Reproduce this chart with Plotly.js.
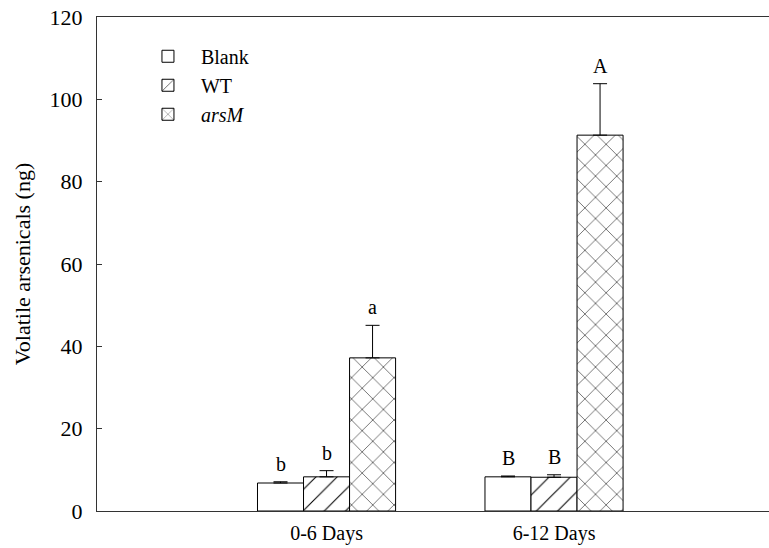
<!DOCTYPE html>
<html>
<head>
<meta charset="utf-8">
<script src="https://cdn.plot.ly/plotly-3.0.1.min.js"></script>
<style>html,body{margin:0;padding:0;background:#fff;}#chart{width:769px;height:548px;}</style>
</head>
<body>
<div id="chart"></div>
<script>
const categories = ["0-6 Days", "6-12 Days"];
const seriesNames = ["Blank", "WT", "<i>arsM</i>"];
const blankValues = [6.8, 8.3];
const blankErrors = [0.3, 0.2];
const wtValues = [8.3, 8.2];
const wtErrors = [1.5, 0.6];
const arsmValues = [37.2, 91.3];
const arsmErrors = [7.9, 12.5];
const blankLetters = ["b", "B"];
const wtLetters = ["b", "B"];
const arsmLetters = ["a", "A"];
const yTicks = [0, 20, 40, 60, 80, 100, 120];

const FONT = "Liberation Serif, Times New Roman, serif";
const shapes = ["", "/", "x"];
const values = [blankValues, wtValues, arsmValues];
const errors = [blankErrors, wtErrors, arsmErrors];
const letters = [blankLetters, wtLetters, arsmLetters];
const bargap = 0.393;

const traces = values.map((v, i) => ({
  type: "bar",
  name: seriesNames[i],
  x: categories,
  y: v,
  marker: {
    color: "#ffffff",
    line: {color: "#000000", width: 1},
    pattern: {shape: shapes[i], fgcolor: "#000000", bgcolor: "#ffffff", size: 15, solidity: 0.07}
  },
  error_y: {type: "data", symmetric: false, array: errors[i], arrayminus: v.map(() => 0), color: "#000000", thickness: 1, width: 7}
}));

const bw = (1 - bargap) / 3;
const annotations = [];
letters.forEach((arr, i) => {
  arr.forEach((t, j) => {
    annotations.push({
      x: j + (i - 1) * bw, y: values[i][j] + errors[i][j], xref: "x", yref: "y",
      text: t, showarrow: false, yanchor: "bottom", yshift: 5,
      font: {family: FONT, size: 20, color: "#000"}
    });
  });
});

const layout = {
  width: 769, height: 548,
  margin: {l: 97, r: 0, t: 17, b: 37},
  paper_bgcolor: "#fff", plot_bgcolor: "#fff",
  barmode: "group", bargap: bargap, bargroupgap: 0,
  showlegend: true,
  legend: {x: 0.0565, y: 0.96, xanchor: "left", yanchor: "top", bgcolor: "rgba(0,0,0,0)",
    font: {family: FONT, size: 20, color: "#000"}, tracegroupgap: 0, itemwidth: 56},
  xaxis: {
    type: "category", range: [-1.009, 1.945],
    showline: true, linecolor: "#333", linewidth: 1, mirror: true,
    ticks: "", showgrid: false, zeroline: false,
    tickfont: {family: FONT, size: 20, color: "#000"}, ticklabelstandoff: 4
  },
  yaxis: {
    range: [0, 120], tickvals: yTicks, ticktext: yTicks.map(String),
    showline: true, linecolor: "#333", linewidth: 1,
    ticks: "inside", ticklen: 5, tickcolor: "#333", showgrid: false, zeroline: false,
    tickfont: {family: FONT, size: 22, color: "#000"}, ticklabelstandoff: 9,
    title: {text: "Volatile arsenicals (ng)", font: {family: FONT, size: 22, color: "#000"}, standoff: 12}
  },
  annotations: annotations
};

Plotly.newPlot("chart", traces, layout, {displayModeBar: false, staticPlot: true});
</script>
</body>
</html>
